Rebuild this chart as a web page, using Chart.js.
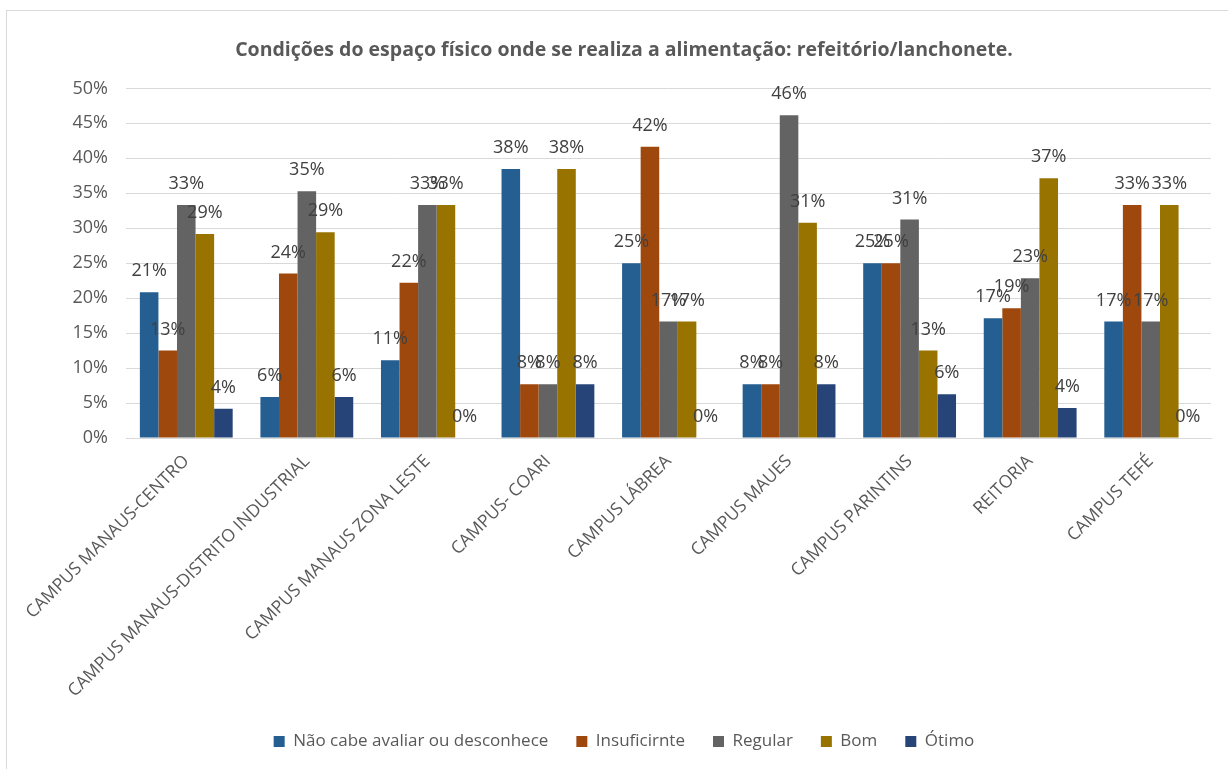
<!DOCTYPE html>
<html>
<head>
<meta charset="utf-8">
<script src="https://cdn.jsdelivr.net/npm/chart.js@4/dist/chart.umd.min.js"></script>
<style>
	body { margin: 0; background: #fff; }
	#frame { position: absolute; left: 6px; top: 10px; width: 1240px; height: 780px; border: 1px solid #d9d9d9; }
	#wrap { position: absolute; left: 0; top: 0; width: 1228px; height: 769px; }
</style>
</head>
<body>
<div id="frame"></div>
<div id="wrap"><canvas id="myBarChart" width="1228" height="769"></canvas></div>
<script>
	var campi = ["CAMPUS MANAUS-CENTRO", "CAMPUS MANAUS-DISTRITO INDUSTRIAL", "CAMPUS MANAUS ZONA LESTE",
		"CAMPUS- COARI", "CAMPUS LÁBREA", "CAMPUS MAUES", "CAMPUS PARINTINS", "REITORIA", "CAMPUS TEFÉ"];

	// percentuais
	var naoCabe      = [20.83, 5.88, 11.11, 38.46, 25.0, 7.69, 25.0, 17.14, 16.67];
	var insuficiente = [12.5, 23.53, 22.22, 7.69, 41.67, 7.69, 25.0, 18.57, 33.33];
	var regular      = [33.33, 35.29, 33.33, 7.69, 16.67, 46.15, 31.25, 22.86, 16.67];
	var bom          = [29.17, 29.41, 33.33, 38.46, 16.67, 30.77, 12.5, 37.14, 33.33];
	var otimo        = [4.17, 5.88, 0, 7.69, 0, 7.69, 6.25, 4.29, 0];

	var yTicks = [0, 5, 10, 15, 20, 25, 30, 35, 40, 45, 50];

	var fonte = "'Open Sans', sans-serif";
	var cinza = "#595959";

	// rótulos de valor acima das barras
	var valorPlugin = {
		id: "valores",
		afterDatasetsDraw: function(chart){
			var ctx = chart.ctx;
			ctx.save();
			ctx.font = "18px " + fonte;
			ctx.fillStyle = "#404040";
			ctx.textAlign = "center";
			ctx.textBaseline = "middle";
			chart.data.datasets.forEach(function(ds, i){
				var meta = chart.getDatasetMeta(i);
				meta.data.forEach(function(bar, j){
					ctx.fillText(Math.round(ds.data[j]) + "%", bar.x, bar.y - 21);
				});
			});
			ctx.restore();
		}
	};

	var cData = {
		labels: campi,
		datasets: [
			{ label: "Não cabe avaliar ou desconhece", data: naoCabe, backgroundColor: "#255E91" },
			{ label: "Insuficirnte", data: insuficiente, backgroundColor: "#9E480E" },
			{ label: "Regular", data: regular, backgroundColor: "#636363" },
			{ label: "Bom", data: bom, backgroundColor: "#997300" },
			{ label: "Ótimo", data: otimo, backgroundColor: "#264478" }
		]
	};

	var chart = document.getElementById("myBarChart");

	var myChart = new Chart(chart, {
		type: "bar",
		data: cData,
		plugins: [valorPlugin],
		options: {
			responsive: false,
			animation: false,
			layout: { padding: { top: 0, left: 37, right: 17, bottom: 9 } },
			datasets: { bar: { categoryPercentage: 0.77, barPercentage: 1.0, borderWidth: 0 } },
			plugins: {
				tooltip: { enabled: false },
				title: {
					display: true,
					text: "Condições do espaço físico onde se realiza a alimentação: refeitório/lanchonete.",
					color: cinza,
					font: { family: fonte, size: 19.5, weight: "bold" },
					padding: { top: 39, bottom: 26 }
				},
				legend: {
					position: "bottom",
					labels: {
						color: cinza,
						font: { family: fonte, size: 17 },
						boxWidth: 11,
						boxHeight: 11,
						padding: 28
					}
				}
			},
			scales: {
				x: {
					grid: { display: false, drawTicks: false },
					border: { color: "#d9d9d9", width: 1 },
					ticks: {
						autoSkip: false,
						maxRotation: 45,
						minRotation: 45,
						padding: 13,
						color: cinza,
						font: { family: fonte, size: 17.5 }
					},
					afterFit: function(s){ s.height = 267; }
				},
				y: {
					min: 0,
					max: 50,
					afterBuildTicks: function(s){
						s.ticks = yTicks.map(function(v){ return { value: v }; });
					},
					grid: { color: "#d9d9d9", lineWidth: 1, drawTicks: false },
					border: { display: false },
					ticks: {
						padding: 18,
						color: cinza,
						font: { family: fonte, size: 18 },
						callback: function(v){ return v + "%"; }
					},
					afterFit: function(s){ s.width = 89; }
				}
			}
		}
	});
</script>
</body>
</html>
